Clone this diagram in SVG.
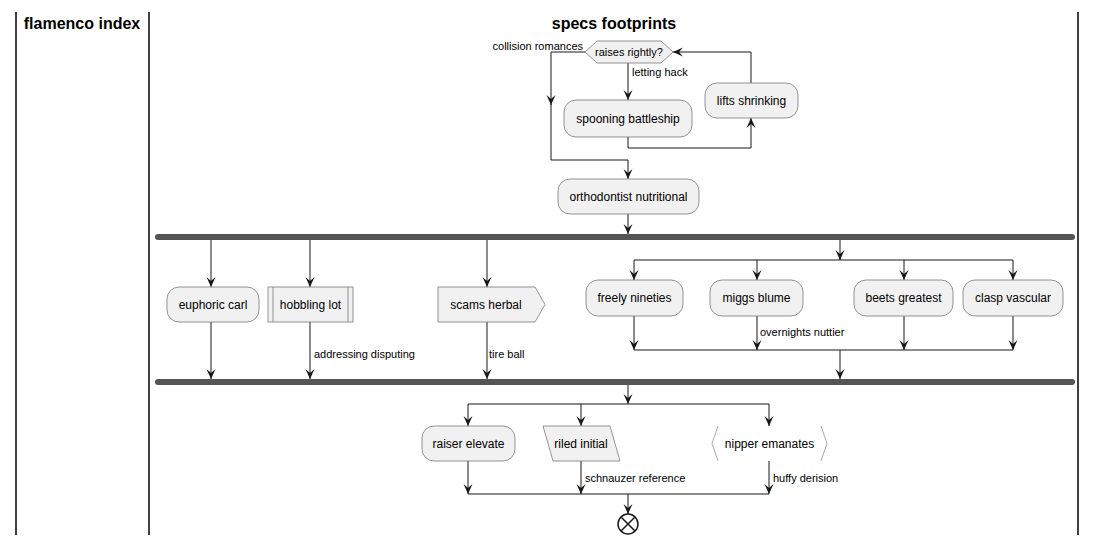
<svg xmlns="http://www.w3.org/2000/svg" width="1097" height="545" viewBox="0 0 1097 545">
<style>
.lane{stroke:#000;stroke-width:1.5;fill:none}
.title{font-family:"Liberation Sans",Arial,sans-serif;font-size:16px;font-weight:bold;fill:#000;text-anchor:middle}
.node{fill:#F1F1F1;stroke:#7a7a7a;stroke-width:0.8}
.t{font-family:"Liberation Sans",Arial,sans-serif;font-size:12px;fill:#000;text-anchor:middle}
.lbl{font-family:"Liberation Sans",Arial,sans-serif;font-size:11px;fill:#000}
.c{stroke:#181818;stroke-width:1;fill:none}
.bar{fill:#555555;stroke:none}
</style>
<defs>
<marker id="arr" viewBox="-11 -6 12 12" refX="0" refY="0" markerWidth="12" markerHeight="12" markerUnits="userSpaceOnUse" orient="auto">
<path d="M0,0 L-10,-4.5 L-6,0 L-10,4.5 Z" fill="#181818"/>
</marker>
</defs>
<rect width="1097" height="545" fill="#fff"/>
<g id="lanes">
<line class="lane" x1="16" y1="12" x2="16" y2="535"/>
<line class="lane" x1="149" y1="12" x2="149" y2="535"/>
<line class="lane" x1="1078" y1="12" x2="1078" y2="535"/>
<text class="title" x="82" y="29">flamenco index</text>
<text class="title" x="614" y="29">specs footprints</text>
</g>
<g id="connectors">
<path class="c" d="M585,52 H551 V105" marker-end="url(#arr)"/>
<path class="c" d="M551,104 V160 H628 V179" marker-end="url(#arr)"/>
<path class="c" d="M628,63 V100" marker-end="url(#arr)"/>
<path class="c" d="M628,137 V148 H751 V118" marker-end="url(#arr)"/>
<path class="c" d="M751,83 V52 H673" marker-end="url(#arr)"/>
<path class="c" d="M628,214 V234" marker-end="url(#arr)"/>
<path class="c" d="M211,240 V287" marker-end="url(#arr)"/>
<path class="c" d="M310,240 V287" marker-end="url(#arr)"/>
<path class="c" d="M487,240 V287" marker-end="url(#arr)"/>
<path class="c" d="M840,240 V260" marker-end="url(#arr)"/>
<path class="c" d="M211,322 V379" marker-end="url(#arr)"/>
<path class="c" d="M310,322 V379" marker-end="url(#arr)"/>
<path class="c" d="M487,322 V379" marker-end="url(#arr)"/>
<path class="c" d="M634,260 H1013"/>
<path class="c" d="M634,260 V280" marker-end="url(#arr)"/>
<path class="c" d="M757,260 V280" marker-end="url(#arr)"/>
<path class="c" d="M904,260 V280" marker-end="url(#arr)"/>
<path class="c" d="M1013,260 V280" marker-end="url(#arr)"/>
<path class="c" d="M634,316 V350" marker-end="url(#arr)"/>
<path class="c" d="M757,316 V350" marker-end="url(#arr)"/>
<path class="c" d="M904,316 V350" marker-end="url(#arr)"/>
<path class="c" d="M1013,316 V350" marker-end="url(#arr)"/>
<path class="c" d="M634,350 H1013"/>
<path class="c" d="M840,350 V379" marker-end="url(#arr)"/>
<path class="c" d="M628,385 V404" marker-end="url(#arr)"/>
<path class="c" d="M468,404 H769"/>
<path class="c" d="M468,404 V426" marker-end="url(#arr)"/>
<path class="c" d="M581,404 V426" marker-end="url(#arr)"/>
<path class="c" d="M769,404 V426" marker-end="url(#arr)"/>
<path class="c" d="M468,461 V494" marker-end="url(#arr)"/>
<path class="c" d="M581,461 V494" marker-end="url(#arr)"/>
<path class="c" d="M769,461 V494" marker-end="url(#arr)"/>
<path class="c" d="M468,494 H769"/>
<path class="c" d="M628,494 V514" marker-end="url(#arr)"/>
<text class="lbl" x="583" y="50" text-anchor="end">collision romances</text>
<text class="lbl" x="632" y="76">letting hack</text>
<text class="lbl" x="314" y="358">addressing disputing</text>
<text class="lbl" x="489" y="358">tire ball</text>
<text class="lbl" x="760" y="336">overnights nuttier</text>
<text class="lbl" x="585" y="482">schnauzer reference</text>
<text class="lbl" x="773" y="482">huffy derision</text>
</g>
<g id="raises-rightly">
<polygon class="node" points="585,52 597,41 661,41 673,52 661,63 597,63"/>
<text class="lbl" x="629" y="56" text-anchor="middle">raises rightly?</text>
</g>
<g id="spooning-battleship">
<rect class="node" x="564" y="100" width="128" height="37" rx="12"/>
<text class="t" x="628" y="123">spooning battleship</text>
</g>
<g id="lifts-shrinking">
<rect class="node" x="705" y="83" width="93" height="35" rx="12"/>
<text class="t" x="751.5" y="105">lifts shrinking</text>
</g>
<g id="orthodontist-nutritional">
<rect class="node" x="558" y="179" width="141" height="35" rx="12"/>
<text class="t" x="628.5" y="201">orthodontist nutritional</text>
</g>
<g id="fork1"><rect class="bar" x="155" y="234" width="920" height="6" rx="3"/></g>
<g id="euphoric-carl">
<rect class="node" x="167" y="287" width="92" height="35" rx="12"/>
<text class="t" x="213" y="309">euphoric carl</text>
</g>
<g id="hobbling-lot">
<rect class="node" x="268" y="287" width="85" height="35"/>
<line class="node" x1="273" y1="287" x2="273" y2="322"/>
<line class="node" x1="348" y1="287" x2="348" y2="322"/>
<text class="t" x="310.5" y="309">hobbling lot</text>
</g>
<g id="scams-herbal">
<polygon class="node" points="438,287 535,287 545,304.5 535,322 438,322"/>
<text class="t" x="486" y="309">scams herbal</text>
</g>
<g id="freely-nineties">
<rect class="node" x="586" y="280" width="97" height="36" rx="12"/>
<text class="t" x="634.5" y="302">freely nineties</text>
</g>
<g id="miggs-blume">
<rect class="node" x="710" y="280" width="93" height="36" rx="12"/>
<text class="t" x="756.5" y="302">miggs blume</text>
</g>
<g id="beets-greatest">
<rect class="node" x="854" y="280" width="99" height="36" rx="12"/>
<text class="t" x="903.5" y="302">beets greatest</text>
</g>
<g id="clasp-vascular">
<rect class="node" x="963" y="280" width="100" height="36" rx="12"/>
<text class="t" x="1013" y="302">clasp vascular</text>
</g>
<g id="fork2"><rect class="bar" x="155" y="379" width="920" height="6" rx="3"/></g>
<g id="raiser-elevate">
<rect class="node" x="422" y="426" width="93" height="35" rx="12"/>
<text class="t" x="468.5" y="448">raiser elevate</text>
</g>
<g id="riled-initial">
<polygon class="node" points="543,426 610,426 620,461 553,461"/>
<text class="t" x="581" y="448">riled initial</text>
</g>
<g id="nipper-emanates">
<polyline points="718,426 712,443.5 718,461" fill="none" stroke="#aaaaaa" stroke-width="1"/>
<polyline points="821,426 827,443.5 821,461" fill="none" stroke="#aaaaaa" stroke-width="1"/>
<text class="t" x="769.5" y="448">nipper emanates</text>
</g>
<g id="end">
<circle cx="628" cy="524" r="10" fill="#fff" stroke="#181818" stroke-width="1.5"/>
<path d="M621,517 L635,531 M635,517 L621,531" stroke="#181818" stroke-width="1.5"/>
</g>
</svg>
